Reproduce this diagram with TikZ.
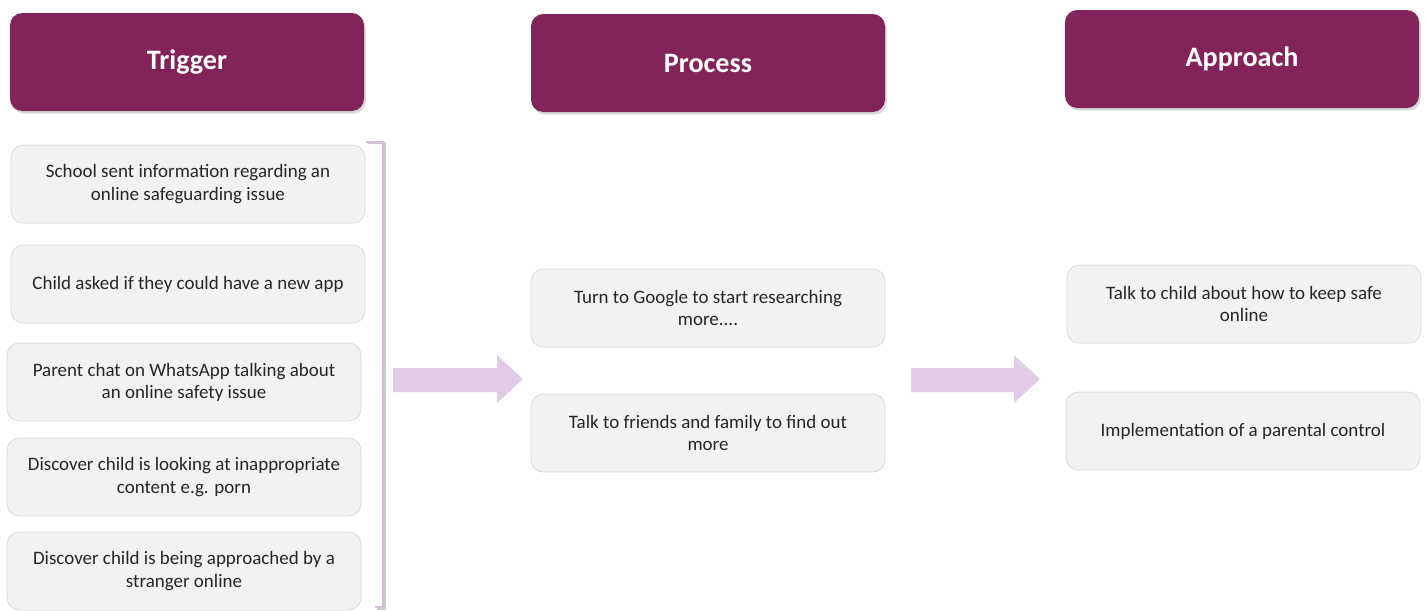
\documentclass[tikz,border=0pt]{standalone}
\usepackage{fontspec}
\setmainfont{Carlito}
\usepackage{tikz}
\usetikzlibrary{shadows}

\definecolor{plum}{HTML}{82245A}
\definecolor{lilac}{HTML}{E1CBE6}
\definecolor{boxgray}{HTML}{F2F2F2}
\definecolor{edgegray}{HTML}{D6D6D6}
\definecolor{txtgray}{HTML}{262626}

\begin{document}
\begin{tikzpicture}[x=0.02cm,y=-0.02cm,
    head/.style={rectangle,rounded corners=7pt,fill=plum,text=white,
      minimum width=354*0.02cm,minimum height=98*0.02cm,
      font=\fontsize{16}{18}\selectfont\bfseries,
      drop shadow={opacity=0.3,shadow xshift=1pt,shadow yshift=-1.5pt}},
    item/.style={rectangle,rounded corners=7pt,fill=boxgray,draw=edgegray,line width=0.4pt,
      minimum width=354*0.02cm,minimum height=78*0.02cm,align=center,text=txtgray,
      font=\fontsize{10.8}{12.6}\selectfont},
    bigarrow/.style={fill=lilac}]
  \useasboundingbox (0,0) rectangle (1426,610);

  % column headers
  \node[head] (trigger) at (187,62) {Trigger};
  \node[head] (process) at (708,63) {Process};
  \node[head] (approach) at (1242,59) {Approach};

  % triggers
  \node[item] (t_1) at (188,184) {School sent information regarding an\\online safeguarding issue};
  \node[item] (t_2) at (188,284) {Child asked if they could have a new app};
  \node[item] (t_3) at (184,382) {Parent chat on WhatsApp talking about\\an online safety issue};
  \node[item] (t_4) at (184,477) {Discover child is looking at inappropriate\\content e.g. porn};
  \node[item] (t_5) at (184,571) {Discover child is being approached by a\\stranger online};

  % process
  \node[item] (p_1) at (708,308) {Turn to Google to start researching\\more....};
  \node[item] (p_2) at (708,433) {Talk to friends and family to find out\\more};

  % approach
  \node[item] (a_1) at (1244,304) {Talk to child about how to keep safe\\online};
  \node[item] (a_2) at (1243,431) {Implementation of a parental control};

  % bracket round the triggers
  \draw[gray!40,line width=1.6pt] (368,143) -- (385,143) -- (385,609) -- (377,609);
  \draw[lilac!90!plum,line width=1.3pt] (366,142) -- (383,142) -- (383,607) -- (375,607);

  % block arrows
  \fill[bigarrow] (393,368) -- (497,368) -- (497,355) -- (523,379) -- (497,403) -- (497,392) -- (393,392) -- cycle;
  \fill[bigarrow] (911,368) -- (1014,368) -- (1014,355) -- (1040,379) -- (1014,403) -- (1014,392) -- (911,392) -- cycle;
\end{tikzpicture}
\end{document}
